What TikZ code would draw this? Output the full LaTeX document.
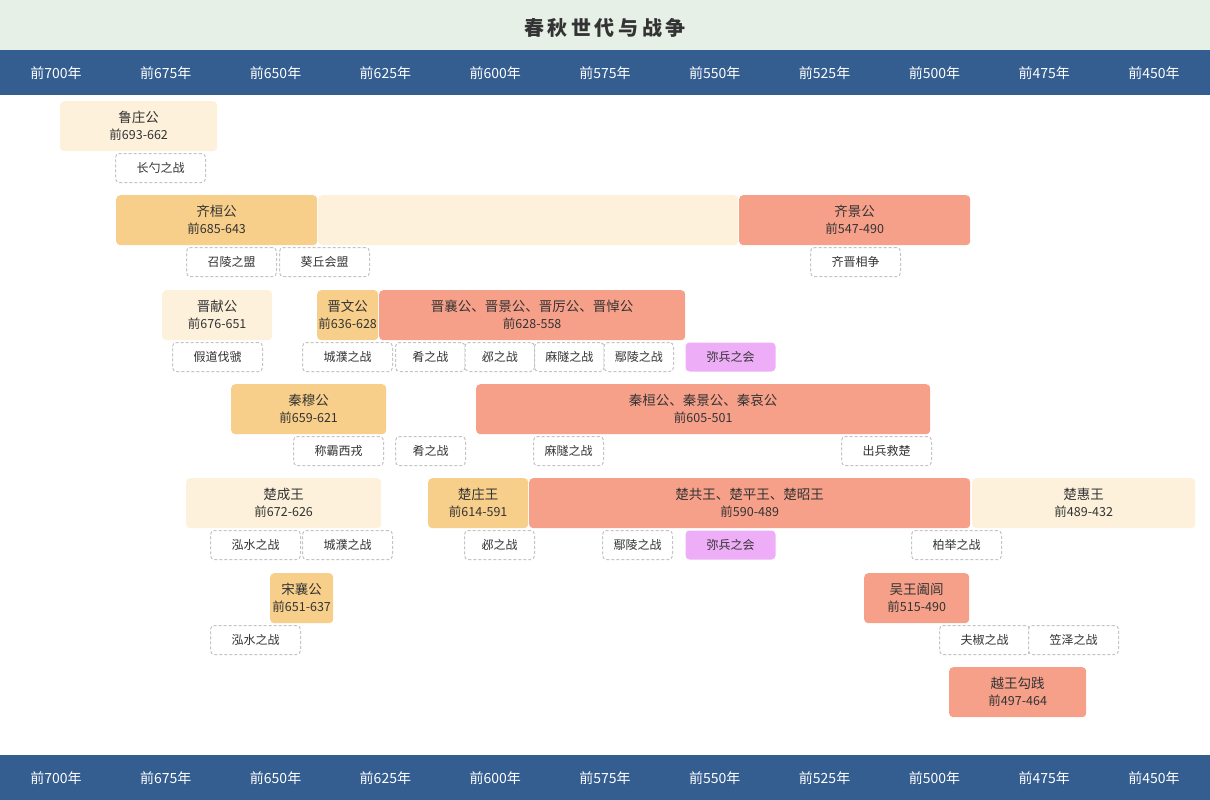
\documentclass[tikz,border=0pt]{standalone}
\usepackage{fontspec}
\setmainfont{Noto Sans CJK SC}
\newfontfamily\titlefont[LetterSpace=18]{Noto Sans CJK SC}

\definecolor{headbg}{HTML}{E6F0E6}
\definecolor{axisbg}{HTML}{345D90}
\definecolor{calm}{HTML}{FDF1DC}
\definecolor{rise}{HTML}{F7CF8A}
\definecolor{clash}{HTML}{F6A08A}
\definecolor{lilac}{HTML}{EEAEF7}
\definecolor{ink}{HTML}{333333}
\definecolor{rim}{HTML}{C4C4C4}

\newcommand{\reign}[1]{{\fontsize{12.5}{15}\selectfont #1}}

\begin{document}
\begin{tikzpicture}[x=1pt, y=-1pt,
    bar/.style={anchor=north west, minimum height=50, inner sep=0pt, rounded corners=4pt,
      align=center, text=ink, font=\fontsize{13.5}{17}\selectfont},
    calmbar/.style={bar, fill=calm},
    risebar/.style={bar, fill=rise},
    clashbar/.style={bar, fill=clash},
    battle/.style={anchor=north west, minimum width=90, minimum height=29, inner sep=0pt,
      rounded corners=4pt, draw=rim, line width=1pt, dash pattern=on 3pt off 2pt,
      fill=white, text=ink, font=\fontsize{12}{14}\selectfont},
    pact/.style={battle, draw=none, fill=lilac},
    tick/.style={text=white, font=\fontsize{14}{16}\selectfont}]

    \useasboundingbox (0,0) rectangle (1210,800);
    \fill[white] (0,0) rectangle (1210,800);

    % title and year axes
    \fill[headbg] (0,0) rectangle (1210,50);
    \node[text=ink, font=\titlefont\bfseries\fontsize{20}{24}\selectfont] (title) at (605,28) {春秋世代与战争};
    \fill[axisbg] (0,50) rectangle (1210,95);
    \fill[axisbg] (0,755) rectangle (1210,800);
    \foreach \i in {0,...,10}{
        \pgfmathtruncatemacro{\yy}{700-25*\i}
        \node[tick] (top-\i) at (56+109.8*\i,73) {前\yy 年};
        \node[tick] (bot-\i) at (56+109.8*\i,778) {前\yy 年};
    }

    % Lu
    \node[calmbar, minimum width=157] (lu) at (60,101) {鲁庄公\\\reign{前693-662}};
    \node[battle] (changshao) at (115,153) {长勺之战};

    % Qi
    \node[risebar, minimum width=201] (qihuan) at (116,195) {齐桓公\\\reign{前685-643}};
    \node[calmbar, minimum width=420] (qigap) at (318,195) {};
    \node[clashbar, minimum width=231] (qijing) at (739,195) {齐景公\\\reign{前547-490}};
    \node[battle] (shaoling) at (186,247) {召陵之盟};
    \node[battle] (kuiqiu) at (279,247) {葵丘会盟};
    \node[battle] (qijin) at (810,247) {齐晋相争};

    % Jin
    \node[calmbar, minimum width=110] (jinxian) at (162,290) {晋献公\\\reign{前676-651}};
    \node[risebar, minimum width=61] (jinwen) at (317,290) {晋文公\\\reign{前636-628}};
    \node[clashbar, minimum width=306] (jinxiang) at (379,290) {晋襄公、晋景公、晋厉公、晋悼公\\\reign{前628-558}};
    \node[battle] (jiadao) at (172,342) {假道伐虢};
    \node[battle] (chengpu-a) at (302,342) {城濮之战};
    \node[battle, minimum width=69.5] (yao-a) at (395,342) {肴之战};
    \node[battle, minimum width=69.5] (bi-a) at (464.5,342) {邲之战};
    \node[battle, minimum width=69.5] (masui-a) at (534,342) {麻隧之战};
    \node[battle, minimum width=69.5] (yanling-a) at (603.5,342) {鄢陵之战};
    \node[pact] (mibing-a) at (685,342) {弥兵之会};

    % Qin
    \node[risebar, minimum width=155] (qinmu) at (231,384) {秦穆公\\\reign{前659-621}};
    \node[clashbar, minimum width=454] (qinhuan) at (476,384) {秦桓公、秦景公、秦哀公\\\reign{前605-501}};
    \node[battle] (xirong) at (293,436) {称霸西戎};
    \node[battle, minimum width=70] (yao-b) at (395,436) {肴之战};
    \node[battle, minimum width=70] (masui-b) at (533,436) {麻隧之战};
    \node[battle] (jiuchu) at (841,436) {出兵救楚};

    % Chu
    \node[calmbar, minimum width=195] (chucheng) at (186,478) {楚成王\\\reign{前672-626}};
    \node[risebar, minimum width=100] (chuzhuang) at (428,478) {楚庄王\\\reign{前614-591}};
    \node[clashbar, minimum width=441] (chugong) at (529,478) {楚共王、楚平王、楚昭王\\\reign{前590-489}};
    \node[calmbar, minimum width=223] (chuhui) at (972,478) {楚惠王\\\reign{前489-432}};
    \node[battle] (hongshui-a) at (210,530) {泓水之战};
    \node[battle] (chengpu-b) at (302,530) {城濮之战};
    \node[battle, minimum width=70] (bi-b) at (464,530) {邲之战};
    \node[battle, minimum width=70] (yanling-b) at (602,530) {鄢陵之战};
    \node[pact] (mibing-b) at (685,530) {弥兵之会};
    \node[battle] (baiju) at (911,530) {柏举之战};

    % Song, Wu, Yue
    \node[risebar, minimum width=63] (songxiang) at (270,573) {宋襄公\\\reign{前651-637}};
    \node[clashbar, minimum width=105] (helu) at (864,573) {吴王阖闾\\\reign{前515-490}};
    \node[battle] (hongshui-b) at (210,625) {泓水之战};
    \node[battle] (fujiao) at (939,625) {夫椒之战};
    \node[battle] (lize) at (1028,625) {笠泽之战};
    \node[clashbar, minimum width=137] (goujian) at (949,667) {越王勾践\\\reign{前497-464}};

\end{tikzpicture}
\end{document}
